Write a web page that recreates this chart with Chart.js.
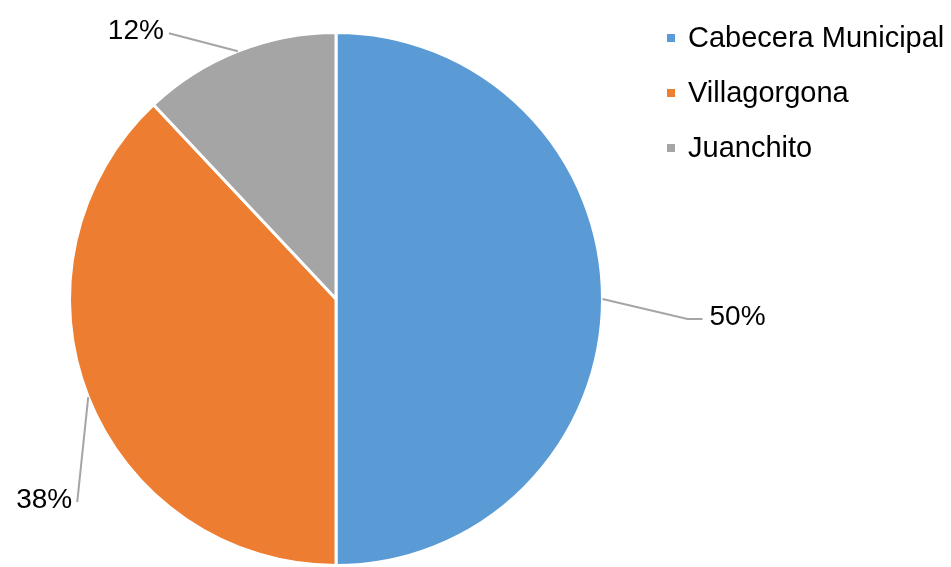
<!DOCTYPE html>
<html>
<head>
<meta charset="utf-8">
<script src="https://cdn.jsdelivr.net/npm/chart.js@4"></script>
<style>
  html, body { margin: 0; padding: 0; background: #fff; }
  #chart { display: block; }
</style>
</head>
<body>
<canvas id="chart" width="951" height="567"></canvas>
<script>
const categories = ["Cabecera Municipal", "Villagorgona", "Juanchito"];
const shares = [50, 38, 12];
const sliceColors = ["#5b9bd5", "#ed7d31", "#a5a5a5"];

// leader line offsets from the slice mid point on the rim (styling only)
const leaderOffsets = [
    { elbow: [85, 20], end: [100, 20], align: "left" },
    { elbow: [-11, 105], end: [-11, 105], align: "right" },
    { elbow: [-69, -18], end: [-69, -18], align: "right" },
];

const FONT = "Liberation Sans, Arial, sans-serif";

const labelPlugin = {
    id: "pieLabels",
    afterDraw(chart) {
        const ctx = chart.ctx;
        const meta = chart.getDatasetMeta(0);
        ctx.save();

        // -----------------------
        // percent labels with leader lines
        // -----------------------
        meta.data.forEach((arc, i) => {
            const mid = (arc.startAngle + arc.endAngle) / 2;
            const ax = arc.x + Math.cos(mid) * arc.outerRadius;
            const ay = arc.y + Math.sin(mid) * arc.outerRadius;
            const off = leaderOffsets[i];
            const ex = ax + off.elbow[0], ey = ay + off.elbow[1];
            const tx = ax + off.end[0], ty = ay + off.end[1];

            ctx.strokeStyle = "#a5a5a5";
            ctx.lineWidth = 2;
            ctx.beginPath();
            ctx.moveTo(ax, ay);
            ctx.lineTo(ex, ey);
            ctx.lineTo(tx, ty);
            ctx.stroke();

            ctx.fillStyle = "#000";
            ctx.font = "28px " + FONT;
            ctx.textBaseline = "middle";
            ctx.textAlign = off.align;
            const pad = off.align === "left" ? 7 : -5;
            ctx.fillText(shares[i] + "%", tx + pad, ty - 2);
        });

        // -----------------------
        // legend on the right
        // -----------------------
        categories.forEach((name, i) => {
            const y = 38 + i * 55;
            ctx.fillStyle = sliceColors[i];
            ctx.fillRect(667, y - 4, 8, 8);
            ctx.fillStyle = "#000";
            ctx.font = "29px " + FONT;
            ctx.textAlign = "left";
            ctx.textBaseline = "middle";
            ctx.fillText(name, 688, y + 1);
        });

        ctx.restore();
    },
};

new Chart(document.getElementById("chart"), {
    type: "pie",
    data: {
        labels: categories,
        datasets: [{
            data: shares,
            backgroundColor: sliceColors,
            borderColor: "#ffffff",
            borderWidth: 3,
        }],
    },
    options: {
        responsive: false,
        animation: false,
        layout: { padding: { left: 67, right: 346, top: 31, bottom: -2 } },
        plugins: {
            legend: { display: false },
            tooltip: { enabled: false },
        },
    },
    plugins: [labelPlugin],
});
</script>
</body>
</html>
